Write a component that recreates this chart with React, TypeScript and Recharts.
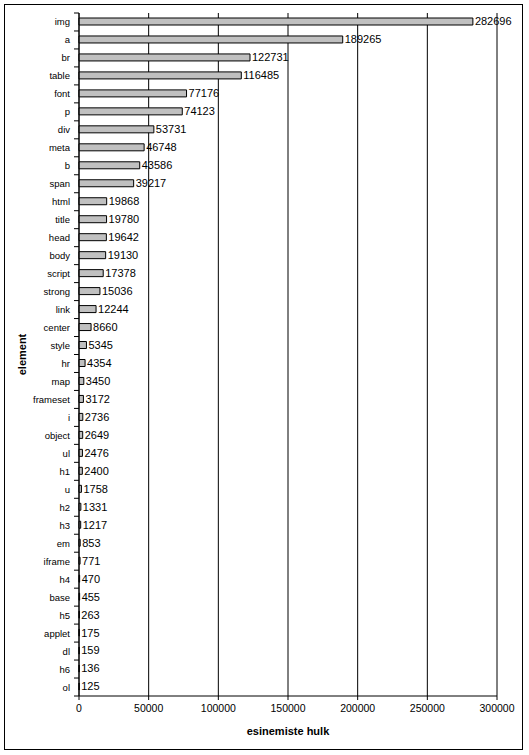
import React from "react";
import { BarChart, Bar, XAxis, YAxis, CartesianGrid, LabelList, ReferenceLine, Label } from "recharts";

const categories = ["img","a","br","table","font","p","div","meta","b","span","html","title","head","body","script","strong","link","center","style","hr","map","frameset","i","object","ul","h1","u","h2","h3","em","iframe","h4","base","h5","applet","dl","h6","ol"];
const counts = [282696,189265,122731,116485,77176,74123,53731,46748,43586,39217,19868,19780,19642,19130,17378,15036,12244,8660,5345,4354,3450,3172,2736,2649,2476,2400,1758,1331,1217,853,771,470,455,263,175,159,136,125];
const xTicks = [0,50000,100000,150000,200000,250000,300000];

const data = categories.map((name, i) => ({ name, value: counts[i] }));

const FONT = "'Liberation Sans', Arial, sans-serif";

const YTick = (props: any) => {
  const { x, y, payload, index } = props;
  const half = 683 / categories.length / 2;
  return (
    <g>
      <text x={x - 9} y={y} textAnchor="end" dominantBaseline="central" fontSize={9.5} fontFamily={FONT} fill="#000">
        {payload.value}
      </text>
      <line x1={x - 5} x2={x} y1={y - half} y2={y - half} stroke="#000" />
      {index === categories.length - 1 ? (
        <line x1={x - 5} x2={x} y1={y + half} y2={y + half} stroke="#000" />
      ) : null}
    </g>
  );
};

export default function App() {
  return (
    <div style={{ position: "absolute", left: 0, top: 0, width: 529, height: 755, background: "#fff" }}>
      <div style={{ position: "absolute", left: 4, top: 4, width: 519, height: 746, boxSizing: "border-box", border: "1px solid #000" }} />
      <div style={{ position: "absolute", left: 0, top: 0 }}>
        <BarChart
          width={529}
          height={755}
          data={data}
          layout="vertical"
          margin={{ top: 13, right: 32, bottom: 19, left: 0 }}
          barCategoryGap={0}
        >
          <CartesianGrid horizontal={false} stroke="#000" strokeOpacity={1} />
          <XAxis
            type="number"
            domain={[0, 300000]}
            ticks={xTicks}
            interval={0}
            height={40}
            axisLine={{ stroke: "#000" }}
            tickLine={{ stroke: "#000" }}
            tickSize={4}
            tickMargin={5}
            tick={{ fontSize: 10.5, fontFamily: FONT, fill: "#000" }}
          >
            <Label
              content={(p: any) => {
                const vb = p.viewBox;
                return (
                  <text x={vb.x + vb.width / 2} y={735} textAnchor="middle" fontSize={11} fontWeight="bold" fontFamily={FONT} fill="#000">
                    esinemiste hulk
                  </text>
                );
              }}
            />
          </XAxis>
          <XAxis xAxisId="top" orientation="top" type="number" domain={[0, 300000]} height={0} tick={false} tickLine={false} axisLine={{ stroke: "#808080" }} />
          <YAxis
            type="category"
            dataKey="name"
            width={79}
            interval={0}
            tickLine={false}
            tickSize={0}
            tickMargin={0}
            axisLine={{ stroke: "#000" }}
            tick={<YTick />}
          >
            <Label
              content={() => (
                <text x={26} y={354.5} textAnchor="middle" fontSize={11} fontWeight="bold" fontFamily={FONT} fill="#000" transform="rotate(-90 26 354.5)">
                  element
                </text>
              )}
            />
          </YAxis>
          <ReferenceLine x={300000} stroke="#808080" />
          <Bar dataKey="value" fill="#C0C0C0" stroke="#000" strokeWidth={1} barSize={7} isAnimationActive={false}>
            <LabelList dataKey="value" position="right" offset={2} fontSize={11} fontFamily={FONT} fill="#000" />
          </Bar>
        </BarChart>
      </div>
    </div>
  );
}
